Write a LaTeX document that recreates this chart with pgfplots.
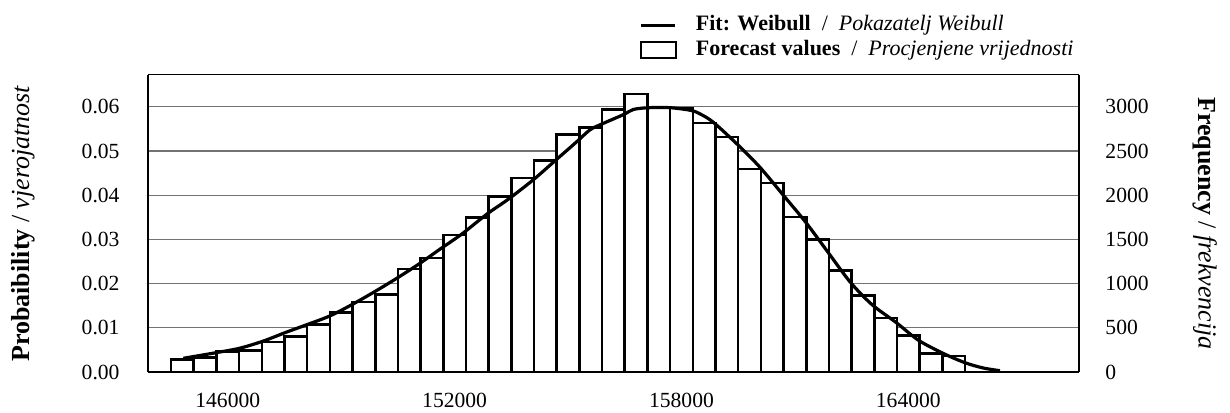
\documentclass[border=0pt]{standalone}
\usepackage{fontspec}
\setmainfont{Liberation Serif}
\usepackage{pgfplots}
\pgfplotsset{compat=1.18}
\pgfplotstableread{
x y
144500 0.0028
145100 0.0033
145700 0.0046
146300 0.0049
146900 0.0068
147500 0.0080
148100 0.0107
148700 0.0134
149300 0.0158
149900 0.0176
150500 0.0233
151100 0.0258
151700 0.0310
152300 0.0349
152900 0.0397
153500 0.0439
154100 0.0479
154700 0.0537
155300 0.0553
155900 0.0594
156500 0.0629
157100 0.0598
157700 0.0597
158300 0.0563
158900 0.0532
159500 0.0459
160100 0.0428
160700 0.0351
161300 0.0300
161900 0.0230
162500 0.0173
163100 0.0122
163700 0.0082
164300 0.0042
164900 0.0036
165500 0.0036
}\bars
\pgfplotstableread{
x y
144825 0.0031
145709 0.0044
146325 0.0054
146941 0.0070
147515 0.0089
148089 0.0107
148705 0.0127
149295 0.0153
149850 0.0180
150469 0.0212
151067 0.0245
151614 0.0278
152188 0.0312
152866 0.0358
153421 0.0391
154082 0.0435
154656 0.0478
155230 0.0521
155582 0.0548
155891 0.0561
156481 0.0583
156727 0.0594
157124 0.0598
157697 0.0598
158245 0.0592
158491 0.0584
158843 0.0565
159504 0.0513
160078 0.0463
160694 0.0400
161294 0.0338
161884 0.0270
162458 0.0204
163032 0.0153
163693 0.0111
164265 0.0072
164926 0.0042
165500 0.0021
165984 0.0009
166425 0.0003
}\fit
\begin{document}
\begin{tikzpicture}
\pgfplotsset{
  common/.style={
    width=465.5pt, height=148.5pt, scale only axis,
    at={(0,0)}, anchor=south west,
    xmin=143890, xmax=168515, ymin=0,
    font=\fontsize{10.8}{13}\selectfont,
    /pgf/number format/assume math mode=true,
    major tick length=0pt, minor tick num=0,
    axis line style={-},
    scaled x ticks=false, scaled y ticks=false,
    clip=false,
  }
}
\begin{axis}[common,
  ymax=0.0672,
  axis x line*=bottom, axis y line*=left,
  x axis line style={line width=1pt},
  y axis line style={line width=0.8pt},
  xtick={146000,152000,158000,164000},
  x tick label style={yshift=-7pt, /pgf/number format/fixed, /pgf/number format/precision=0, /pgf/number format/1000 sep={}},
  ytick={0,0.01,0.02,0.03,0.04,0.05,0.06},
  y tick label style={xshift=-10.7pt, /pgf/number format/fixed, /pgf/number format/fixed zerofill, /pgf/number format/precision=2},
  ymajorgrids, grid style={black!55, line width=0.6pt},
  every axis y label/.style={at={(axis description cs:-0.1343,0.5)}, rotate=90, anchor=center, font=\fontsize{13}{15}\selectfont},
  ylabel={\textbf{Probaibility} / \textit{vjerojatnost}},
  legend cell align=left,
  legend style={at={(axis description cs:0.5274,1)}, anchor=south west, yshift=7.5pt,
    draw=none, fill=none, inner sep=0pt, column sep=9.5pt, row sep=2.5pt,
    nodes={inner sep=0pt, text height=7.3pt, text depth=2.3pt},
    font=\fontsize{11}{13}\selectfont},
]
\addlegendimage{legend image code/.code={\draw[line width=1.6pt] (0pt,0pt) -- (17pt,0pt);}}
\addlegendentry{\textbf{Fit: Weibull}\enspace/\enspace\textit{Pokazatelj Weibull}}
\addlegendimage{legend image code/.code={\draw[line width=0.9pt, fill=white] (0pt,-4pt) rectangle (17.5pt,4pt);}}
\addlegendentry{\textbf{Forecast values}\enspace/\enspace\textit{Procjenjene vrijednosti}}
\addplot[ybar interval, fill=white, draw=black, line width=1.3pt, forget plot] table {\bars};
\addplot[smooth, line width=1.6pt, black, forget plot] table {\fit};
\end{axis}
\begin{axis}[common,
  ymax=3360,
  axis x line*=top, axis y line*=right,
  x axis line style={line width=0.5pt},
  y axis line style={line width=1pt},
  xtick=\empty,
  ytick={0,500,1000,1500,2000,2500,3000},
  y tick label style={xshift=9.7pt, /pgf/number format/fixed, /pgf/number format/precision=0, /pgf/number format/1000 sep={}},
  every axis y label/.style={at={(axis description cs:1.1353,0.5)}, rotate=-90, anchor=center, font=\fontsize{13}{15}\selectfont},
  ylabel={\textbf{Frequency} / \textit{frekvencija}},
]
\end{axis}
\pgfresetboundingbox
\path (-74pt,-20pt) rectangle (541pt,186pt);
\end{tikzpicture}
\end{document}
